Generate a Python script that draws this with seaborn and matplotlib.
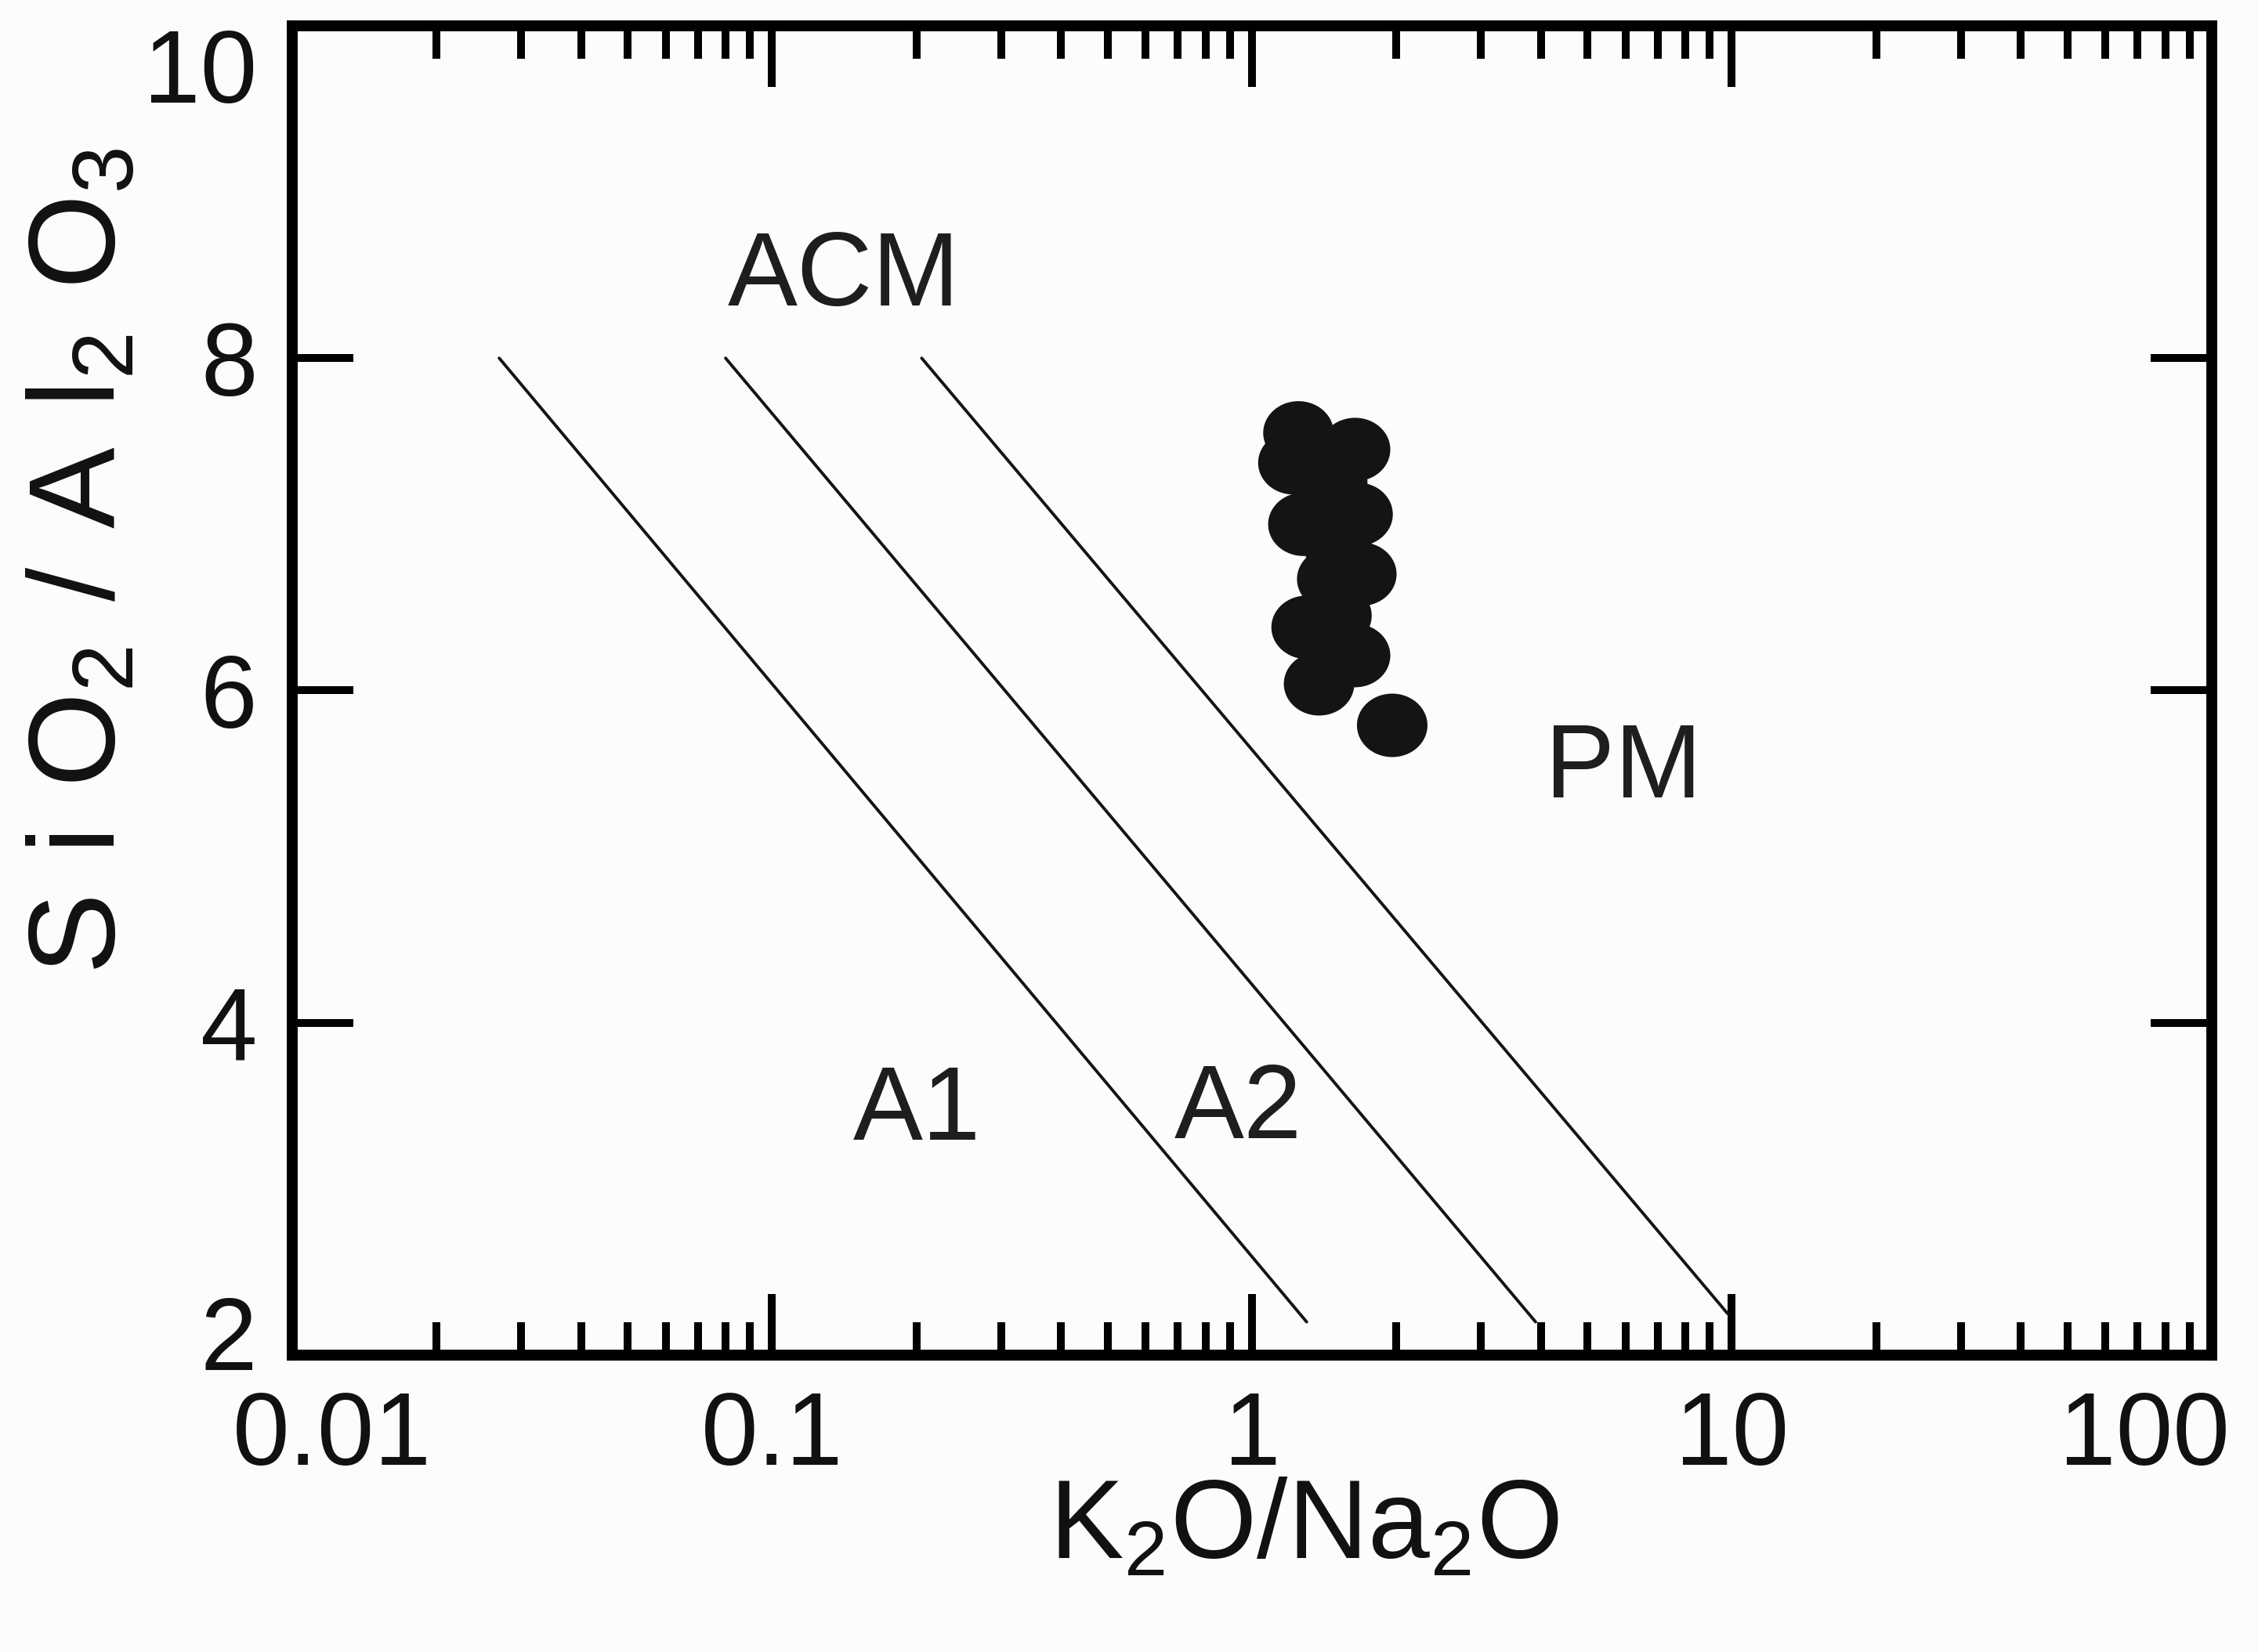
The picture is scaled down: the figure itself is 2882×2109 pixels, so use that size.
import numpy as np
import pandas as pd
import seaborn as sns
import matplotlib.pyplot as plt
from matplotlib.path import Path
from matplotlib.markers import MarkerStyle
from matplotlib.ticker import FixedLocator, LogLocator, NullFormatter, NullLocator
from matplotlib.transforms import ScaledTranslation

# samples
k2o_na2o = [1.25, 1.64, 1.22, 1.66, 1.28, 1.69, 1.47, 1.30, 1.64, 1.38, 1.96,
            1.47, 1.50, 1.50]
sio2_al2o3 = [7.55, 7.45, 7.37, 7.06, 7.00, 6.70, 6.67, 6.38, 6.21, 6.04, 5.79,
              7.25, 6.90, 6.45]

# field boundaries (start, end)
boundary_names = ['A1/A2', 'A2/ACM', 'ACM/PM']
boundary_x = [[0.027, 1.30], [0.080, 3.9], [0.205, 9.8]]
boundary_y = [[8.0, 2.2], [8.0, 2.2], [8.0, 2.25]]

field_names = ['ACM', 'PM', 'A1', 'A2']
field_x = [0.141, 5.94, 0.200, 0.935]
field_y = [8.48, 5.52, 3.46, 3.47]

x_ticks = [0.01, 0.1, 1, 10, 100]
x_ticklabels = ['0.01', '0.1', '1', '10', '100']
y_ticks = [2, 4, 6, 8, 10]

bg = '#fbfcfd'
ink = '#141414'

sns.set_theme(style='white')
plt.rcParams['font.family'] = ['Liberation Sans', 'DejaVu Sans']
plt.rcParams['mathtext.fontset'] = 'custom'
plt.rcParams['mathtext.rm'] = 'Liberation Sans'
plt.rcParams['mathtext.it'] = 'Liberation Sans'
plt.rcParams['mathtext.default'] = 'regular'

pts = pd.DataFrame({'ratio': k2o_na2o, 'silica': sio2_al2o3})
lines = pd.DataFrame({
    'boundary': np.repeat(boundary_names, 2),
    'x': np.ravel(boundary_x),
    'y': np.ravel(boundary_y),
})

fig = plt.figure(figsize=(14.41, 10.545), dpi=200, facecolor=bg)
ax = fig.add_axes([0.1294, 0.1797, 0.8501, 0.8047])
ax.set_facecolor(bg)

sns.lineplot(data=lines, x='x', y='y', hue='boundary', units='boundary',
             estimator=None, sort=False, palette=[ink] * 3, linewidth=1.4,
             legend=False, ax=ax)

# slightly flattened round marker
circ = Path.unit_circle()
oval = Path(circ.vertices * [1.0, 0.9], circ.codes)
sns.scatterplot(data=pts, x='ratio', y='silica', marker=MarkerStyle(oval),
                s=1050, color=ink, edgecolor='none', linewidth=0, ax=ax, zorder=3)

for name, fx, fy in zip(field_names, field_x, field_y):
    ax.text(fx, fy, name, fontsize=48, color='#1e1e1e', ha='center', va='center')

ax.set_xscale('log')
ax.set_xlim(0.01, 100)
ax.set_ylim(2, 10)
ax.xaxis.set_major_locator(FixedLocator(x_ticks))
ax.set_xticklabels(x_ticklabels)
ax.xaxis.set_minor_locator(LogLocator(base=10, subs=np.arange(2, 10), numticks=20))
ax.xaxis.set_minor_formatter(NullFormatter())
ax.yaxis.set_major_locator(FixedLocator(y_ticks))
ax.set_yticklabels([str(v) for v in y_ticks])
ax.yaxis.set_minor_locator(NullLocator())

ax.tick_params(which='both', direction='in', top=True, right=True,
               bottom=True, left=True, width=3.6, color='black',
               labelcolor='#111111')
ax.tick_params(which='major', length=28, labelsize=47, pad=16)
ax.tick_params(which='minor', length=15)

for side in ['left', 'right', 'top', 'bottom']:
    ax.spines[side].set_linewidth(5)
    ax.spines[side].set_color('black')

ax.set_xlabel('K$_2$O/Na$_2$O', fontsize=51, color='#111111')
# the original y label is stretched along its length
ax.set_ylabel(r'$S\:\,i\:\,O_2\:\,/\:\,A\:\,l_2\:\,O_3$', fontsize=56, color='#111111')
ax.xaxis.set_label_coords(0.527, -0.131)
ax.xaxis.label.set_va('center')
ax.yaxis.set_label_coords(-0.109, 0.597)
ax.yaxis.label.set_va('center')

# end labels pulled inside the frame
xt = ax.xaxis.get_major_ticks()
xt[0].label1.set_transform(xt[0].label1.get_transform() + ScaledTranslation(0.255, 0, fig.dpi_scale_trans))
xt[-1].label1.set_transform(xt[-1].label1.get_transform() + ScaledTranslation(-0.43, 0, fig.dpi_scale_trans))
yt = ax.yaxis.get_major_ticks()
yt[0].label1.set_transform(yt[0].label1.get_transform() + ScaledTranslation(0, 0.145, fig.dpi_scale_trans))
yt[-1].label1.set_transform(yt[-1].label1.get_transform() + ScaledTranslation(0, -0.25, fig.dpi_scale_trans))

fig.savefig('out.png', dpi=200, facecolor=bg)
